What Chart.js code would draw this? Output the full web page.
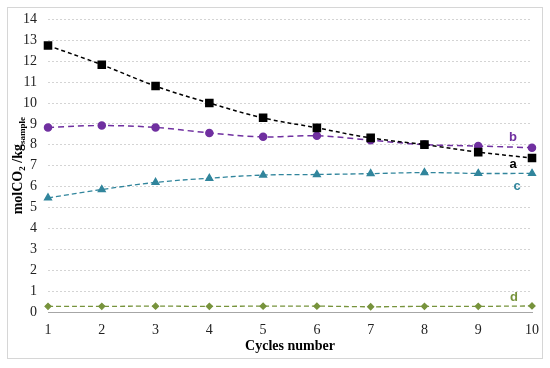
<!DOCTYPE html>
<html lang="en">
<head>
  <meta charset="UTF-8" />
  <title>molCO2 per cycle</title>
  <script src="https://cdn.jsdelivr.net/npm/chart.js"></script>
  <style>
    html, body {
      margin: 0;
      padding: 0;
      background: #ffffff;
    }
    #wrap {
      width: 550px;
      height: 368px;
    }
  </style>
</head>
<body>
  <div id="wrap"><canvas id="cycleChart" width="550" height="368"></canvas></div>

  <script>
    const cycles = ["1", "2", "3", "4", "5", "6", "7", "8", "9", "10"];
    const serieA = [12.75, 11.83, 10.81, 10.0, 9.29, 8.81, 8.33, 8.01, 7.65, 7.37];
    const serieB = [8.83, 8.92, 8.83, 8.57, 8.38, 8.43, 8.22, 8.01, 7.94, 7.86];
    const serieC = [5.46, 5.86, 6.2, 6.4, 6.55, 6.58, 6.62, 6.67, 6.63, 6.63];
    const serieD = [0.27, 0.27, 0.28, 0.27, 0.28, 0.28, 0.25, 0.27, 0.27, 0.29];
    const seriesNames = ["a", "b", "c", "d"];

    const serif = "'Liberation Serif', 'DejaVu Serif', serif";

    // labels a, b, c, d next to the last point of each line
    const endLabels = {
      id: "endLabels",
      afterDatasetsDraw(chart) {
        const ctx = chart.ctx;
        const shifts = [[-19, 6], [-19, -10], [-15, 13], [-18, -9]];
        ctx.save();
        ctx.font = "bold 13px 'Liberation Sans', Arial, sans-serif";
        ctx.textAlign = "center";
        ctx.textBaseline = "middle";
        chart.data.datasets.forEach((ds, i) => {
          const pts = chart.getDatasetMeta(i).data;
          const last = pts[pts.length - 1];
          ctx.fillStyle = ds.borderColor;
          ctx.fillText(seriesNames[i], last.x + shifts[i][0], last.y + shifts[i][1]);
        });
        ctx.restore();
      }
    };

    // outer frame and rotated y title with subscripts
    const decor = {
      id: "decor",
      beforeDraw(chart) {
        const ctx = chart.ctx;
        ctx.save();
        ctx.strokeStyle = "#d6d6d6";
        ctx.lineWidth = 1;
        ctx.strokeRect(7.5, 7.5, 535, 351);
        ctx.restore();
      },
      afterDraw(chart) {
        const ctx = chart.ctx;
        const area = chart.chartArea;
        const parts = [
          ["molCO", 14, 0],
          ["2", 9, 3],
          [" /kg", 14, 0],
          ["sample", 9, 3]
        ];
        ctx.save();
        ctx.fillStyle = "#000";
        ctx.textBaseline = "alphabetic";
        let total = 0;
        parts.forEach(p => {
          ctx.font = "bold " + p[1] + "px " + serif;
          total += ctx.measureText(p[0]).width;
        });
        ctx.translate(22, (area.top + area.bottom) / 2);
        ctx.rotate(-Math.PI / 2);
        let x = -total / 2;
        parts.forEach(p => {
          ctx.font = "bold " + p[1] + "px " + serif;
          ctx.fillText(p[0], x, p[2]);
          x += ctx.measureText(p[0]).width;
        });
        ctx.restore();
      }
    };

    const ctx = document.getElementById("cycleChart").getContext("2d");
    const chart = new Chart(ctx, {
      type: "line",
      data: {
        labels: cycles,
        datasets: [
          {
            label: "a",
            data: serieA,
            borderColor: "#000000",
            backgroundColor: "#000000",
            borderDash: [4, 3],
            borderWidth: 1.5,
            pointStyle: "rect",
            pointRadius: 5,
            tension: 0.4
          },
          {
            label: "b",
            data: serieB,
            borderColor: "#7030a0",
            backgroundColor: "#7030a0",
            borderDash: [6, 4],
            borderWidth: 1.5,
            pointStyle: "circle",
            pointRadius: 3.5,
            tension: 0.4
          },
          {
            label: "c",
            data: serieC,
            borderColor: "#31859c",
            backgroundColor: "#31859c",
            borderDash: [5, 3],
            borderWidth: 1.3,
            pointStyle: "triangle",
            pointRadius: 4,
            tension: 0.4
          },
          {
            label: "d",
            data: serieD,
            borderColor: "#77933c",
            backgroundColor: "#77933c",
            borderDash: [5, 3],
            borderWidth: 1.3,
            pointStyle: "rectRot",
            pointRadius: 3,
            tension: 0.4
          }
        ]
      },
      options: {
        responsive: false,
        animation: false,
        layout: {
          padding: { top: 18, left: 0, right: 18, bottom: 10 }
        },
        plugins: {
          legend: { display: false },
          tooltip: { enabled: false }
        },
        scales: {
          x: {
            offset: false,
            grid: { display: false, drawTicks: false },
            border: { display: true, color: "#a6a6a6", width: 1 },
            ticks: {
              padding: 10,
              color: "#222",
              font: { family: serif, size: 14 }
            },
            title: {
              display: true,
              text: "Cycles number",
              color: "#000",
              font: { family: serif, size: 14, weight: "bold" },
              padding: { top: 0, bottom: 3 }
            },
            afterFit: s => { s.height = 46; }
          },
          y: {
            min: 0,
            max: 14,
            grid: { color: "#d4d4d4", drawTicks: false },
            border: { display: false, dash: [2, 2] },
            ticks: {
              stepSize: 1,
              padding: 11,
              color: "#222",
              font: { family: serif, size: 14 }
            },
            afterFit: s => { s.width = 48; }
          }
        }
      },
      plugins: [decor, endLabels]
    });
  </script>
</body>
</html>
